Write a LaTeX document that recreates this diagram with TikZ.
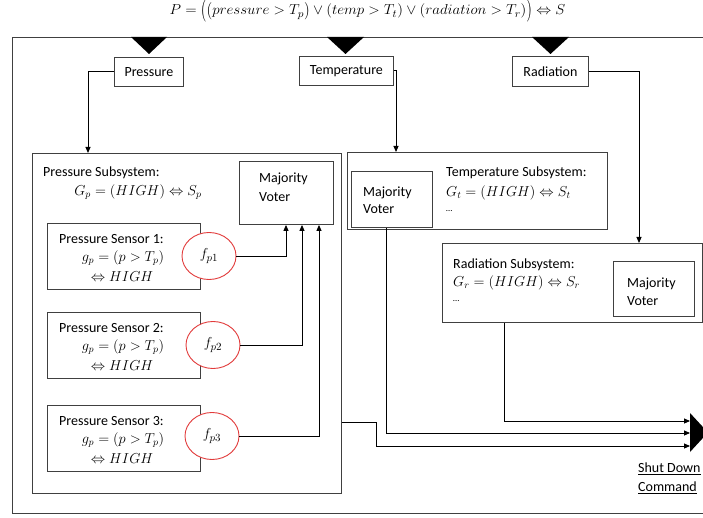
\documentclass[tikz,border=0pt]{standalone}
\usepackage{fontspec}
\setmainfont{Carlito}
\usetikzlibrary{arrows.meta,calc,shapes.geometric}
\definecolor{boxgray}{HTML}{404040}
\definecolor{fred}{HTML}{E23B3B}
% vertically stretched delimiters, centred on the math axis
\newcommand\stretchopen[2]{\mathopen{\vcenter{\hbox{\scalebox{1}[#1]{$#2$}}}}}
\newcommand\stretchclose[2]{\mathclose{\vcenter{\hbox{\scalebox{1}[#1]{$#2$}}}}}
\begin{document}
\begin{tikzpicture}[x=1pt,y=-1pt,
  font=\fontsize{14}{19}\selectfont,
  box/.style={draw=boxgray, line width=0.9pt, rectangle, inner sep=0pt, anchor=north west, fill=white},
  fnode/.style={draw=fred, line width=0.9pt, ellipse, fill=white, minimum width=54pt, minimum height=47pt, inner sep=0pt, font=\fontsize{15.5}{17}\selectfont},
  conn/.style={draw=black, line width=0.9pt, -{Triangle[length=6pt,width=5pt]}},
  txt/.style={anchor=west, inner sep=0pt, align=left},
  mth/.style={inner sep=0pt},
  tip/.style={fill=black}]
\useasboundingbox (0,0) rectangle (703,518);
\clip (0,0) rectangle (703,518);

% overall formula
\node[mth, anchor=base, font=\fontsize{15}{17}\selectfont] (formula) at (367.5,15)
  {\scalebox{1.04}[1]{$P = \stretchopen{1.55}{(}\stretchopen{1.2}{(}pressure > T_p\stretchclose{1.2}{)} \vee (temp > T_t) \vee (radiation > T_r)\stretchclose{1.55}{)} \Leftrightarrow S$}};

% outer frame
\node[box, fill=none, minimum width=700pt, minimum height=476pt] (frame) at (12,37) {};

% input markers on the frame
\fill[tip] (131,37) -- (167,37) -- (149,54) -- cycle;
\fill[tip] (327,37) -- (364,37) -- (345.5,54) -- cycle;
\fill[tip] (532,37) -- (569,37) -- (550.5,54) -- cycle;

% inputs
\node[box, minimum width=69pt, minimum height=29pt] (pres) at (114,57) {};
\node at (pres.center) {Pressure};
\node[box, minimum width=94pt, minimum height=29pt] (temp) at (299,56) {};
\node at (temp.center) {Temperature};
\node[box, minimum width=76pt, minimum height=30pt] (rad) at (512,56) {};
\node at (rad.center) {Radiation};

% pressure subsystem
\node[box, minimum width=309pt, minimum height=340pt] (psub) at (32,153) {};
\node[txt] (psubt) at (43,173) {Pressure Subsystem:};
\node[mth] (psubg) at (138,192) {$G_p = (HIGH) \Leftrightarrow S_p$};
\node[box, minimum width=94pt, minimum height=63pt] (pv) at (239,161) {};
\node[txt] (pvt) at (259,187.5) {Majority\\Voter};

% pressure sensors
\foreach \i/\y/\fx/\fy in {1/223/209/256, 2/312/213/345, 3/405/212/436}{
  \node[box, minimum width=153pt, minimum height=66pt] (s\i) at (47,\y) {};
  \node[txt] (s\i t) at (59,\y+16) {Pressure Sensor \i:};
  \node[mth] (s\i g) at (123,\y+35) {$g_p = \left(p > T_p\right)$};
  \node[mth] (s\i h) at (122,\y+54) {$\Leftrightarrow HIGH$};
  \node[fnode] (f\i) at (\fx,\fy) {$f_{p\i}$};
}

% sensor outputs into the voter
\draw[conn] (f1.east) -| ([xshift=47pt]pv.south west);
\draw[conn] (f2.east) -| ([xshift=63pt]pv.south west);
\draw[conn] (f3.east) -| ([xshift=80pt]pv.south west);

% temperature subsystem
\node[box, minimum width=260pt, minimum height=77pt] (tsub) at (347,152) {};
\node[box, minimum width=81pt, minimum height=56pt] (tv) at (351,171) {};
\node[txt, font=\fontsize{14}{17}\selectfont] (tvt) at (363,200.5) {Majority\\Voter};
\node[txt] (tsubt) at (446,173) {Temperature Subsystem:};
\node[txt] (tsubg) at (446,193) {$G_t = (HIGH) \Leftrightarrow S_t$};
\node[txt] (tsubd) at (446,211) {\small\dots};

% radiation subsystem
\node[box, minimum width=260pt, minimum height=79pt] (rsub) at (442,243) {};
\node[txt] (rsubt) at (453,265) {Radiation Subsystem:};
\node[txt] (rsubg) at (453,283) {$G_r = (HIGH) \Leftrightarrow S_r$};
\node[txt] (rsubd) at (453,301) {\small\dots};
\node[box, minimum width=81pt, minimum height=55pt] (rv) at (613,261) {};
\node[txt, font=\fontsize{14}{18}\selectfont] (rvt) at (627,292) {Majority\\Voter};

% inputs to subsystems
\draw[conn] (pres.west) -| ([xshift=56pt]psub.north west);
\draw[conn] (temp.east) -| ([xshift=49pt]tsub.north west);
\draw[conn] (rad.east) -| ([xshift=197pt]rsub.north west);

% shut down output
\fill[tip] (690,413) -- (690,452) -- (708,432.5) -- cycle;
\coordinate (o1) at (690,421);
\coordinate (o2) at (690,433);
\coordinate (o3) at (690,446);
\draw[conn] ([xshift=62pt]rsub.south west) |- (o1);
\draw[conn] ([xshift=35pt]tv.south west) |- (o2);
\draw[conn] ([yshift=71pt]psub.south east) -- ++(35,0) |- (o3);
\node[txt] (cmd) at (638,478.5) {\underline{Shut Down}\\\underline{Command}};
\end{tikzpicture}
\end{document}
